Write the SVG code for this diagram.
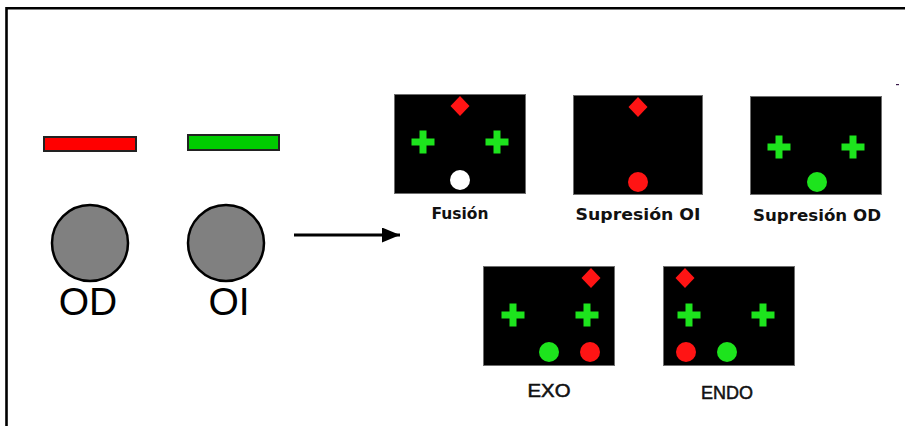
<svg xmlns="http://www.w3.org/2000/svg" xmlns:xlink="http://www.w3.org/1999/xlink" width="905" height="426" viewBox="0 0 905 426">
  <style>
    .screen { fill: #000; stroke: #6e6e6e; stroke-width: 1; }
    .plus { fill: #1de41d; }
    .red { fill: #ff1414; }
    .grn { fill: #1de41d; }
    .wht { fill: #fff; }
    .eye { fill: #808080; stroke: #000; stroke-width: 2.5; }
    .cap { font-family: "DejaVu Sans", "Liberation Sans", sans-serif; font-weight: bold; font-size: 15px; fill: #111; text-anchor: middle; }
    .cap2 { font-family: "Liberation Sans", Arial, sans-serif; font-size: 18px; fill: #111; stroke: #111; stroke-width: 0.5; text-anchor: middle; }
    .eyelbl { font-family: "Liberation Sans", Arial, sans-serif; font-size: 39px; fill: #000; text-anchor: middle; }
  </style>
  <defs>
    <path id="cross" d="M-3.5,-11.5 h7 v8 h8 v7 h-8 v8 h-7 v-8 h-8 v-7 h8 z"/>
    <path id="diamond" d="M0,-10 L9.5,0 L0,10 L-9.5,0 z"/>
    <marker id="head" markerWidth="6" markerHeight="5" refX="6" refY="2.5" orient="auto" markerUnits="strokeWidth">
      <path d="M0,0 L6,2.5 L0,5 z" fill="#000"/>
    </marker>
  </defs>

  <rect width="905" height="426" fill="#fff"/>
  <!-- outer frame, running off the right and bottom edges -->
  <path d="M6.5,426 V8.3 H905" fill="none" stroke="#000" stroke-width="2.6"/>
  <rect x="896" y="84" width="3" height="1.2" fill="#3a1a4a"/>

  <!-- right eye / left eye filters -->
  <g id="filter-od">
    <rect x="44" y="137" width="92" height="14" fill="#ff0000" stroke="#222" stroke-width="2"/>
  </g>
  <g id="filter-oi">
    <rect x="188" y="135" width="91" height="15" fill="#00cc00" stroke="#222" stroke-width="2"/>
  </g>

  <g id="eye-od">
    <circle class="eye" cx="90" cy="243" r="38"/>
    <text class="eyelbl" x="88" y="315">OD</text>
  </g>
  <g id="eye-oi">
    <circle class="eye" cx="226" cy="243" r="38"/>
    <text class="eyelbl" x="229" y="315">OI</text>
  </g>

  <g id="connectors">
    <line x1="294" y1="235" x2="400" y2="235" stroke="#000" stroke-width="3" marker-end="url(#head)"/>
  </g>

  <!-- possible test outcomes -->
  <g id="fusion">
    <rect class="screen" x="394.5" y="94.5" width="131" height="99"/>
    <use href="#diamond" class="red" x="460" y="106"/>
    <use href="#cross" class="plus" x="423" y="142"/>
    <use href="#cross" class="plus" x="497" y="142"/>
    <circle class="wht" cx="460" cy="180" r="10"/>
    <text class="cap" x="460" y="219" textLength="57" lengthAdjust="spacingAndGlyphs">Fusión</text>
  </g>

  <g id="supresion-oi">
    <rect class="screen" x="573.5" y="95.5" width="129" height="99"/>
    <use href="#diamond" class="red" x="638" y="107"/>
    <circle class="red" cx="638" cy="182" r="10"/>
    <text class="cap" x="638" y="220" textLength="125" lengthAdjust="spacingAndGlyphs">Supresión OI</text>
  </g>

  <g id="supresion-od">
    <rect class="screen" x="750.5" y="96.5" width="131" height="98"/>
    <use href="#cross" class="plus" x="779" y="147"/>
    <use href="#cross" class="plus" x="853" y="147"/>
    <circle class="grn" cx="817" cy="182" r="10"/>
    <text class="cap" x="817" y="221" textLength="128" lengthAdjust="spacingAndGlyphs">Supresión OD</text>
  </g>

  <g id="exo">
    <rect class="screen" x="483.5" y="266.5" width="131" height="99"/>
    <use href="#diamond" class="red" x="591" y="278"/>
    <use href="#cross" class="plus" x="513" y="315"/>
    <use href="#cross" class="plus" x="587" y="315"/>
    <circle class="grn" cx="549" cy="352" r="10"/>
    <circle class="red" cx="590" cy="352" r="10"/>
    <text class="cap2" x="549" y="397" textLength="43" lengthAdjust="spacingAndGlyphs">EXO</text>
  </g>

  <g id="endo">
    <rect class="screen" x="663.5" y="266.5" width="131" height="99"/>
    <use href="#diamond" class="red" x="685" y="278"/>
    <use href="#cross" class="plus" x="689" y="315"/>
    <use href="#cross" class="plus" x="763" y="315"/>
    <circle class="red" cx="686" cy="352" r="10"/>
    <circle class="grn" cx="727" cy="352" r="10"/>
    <text class="cap2" x="727" y="399" textLength="52" lengthAdjust="spacingAndGlyphs">ENDO</text>
  </g>
</svg>
